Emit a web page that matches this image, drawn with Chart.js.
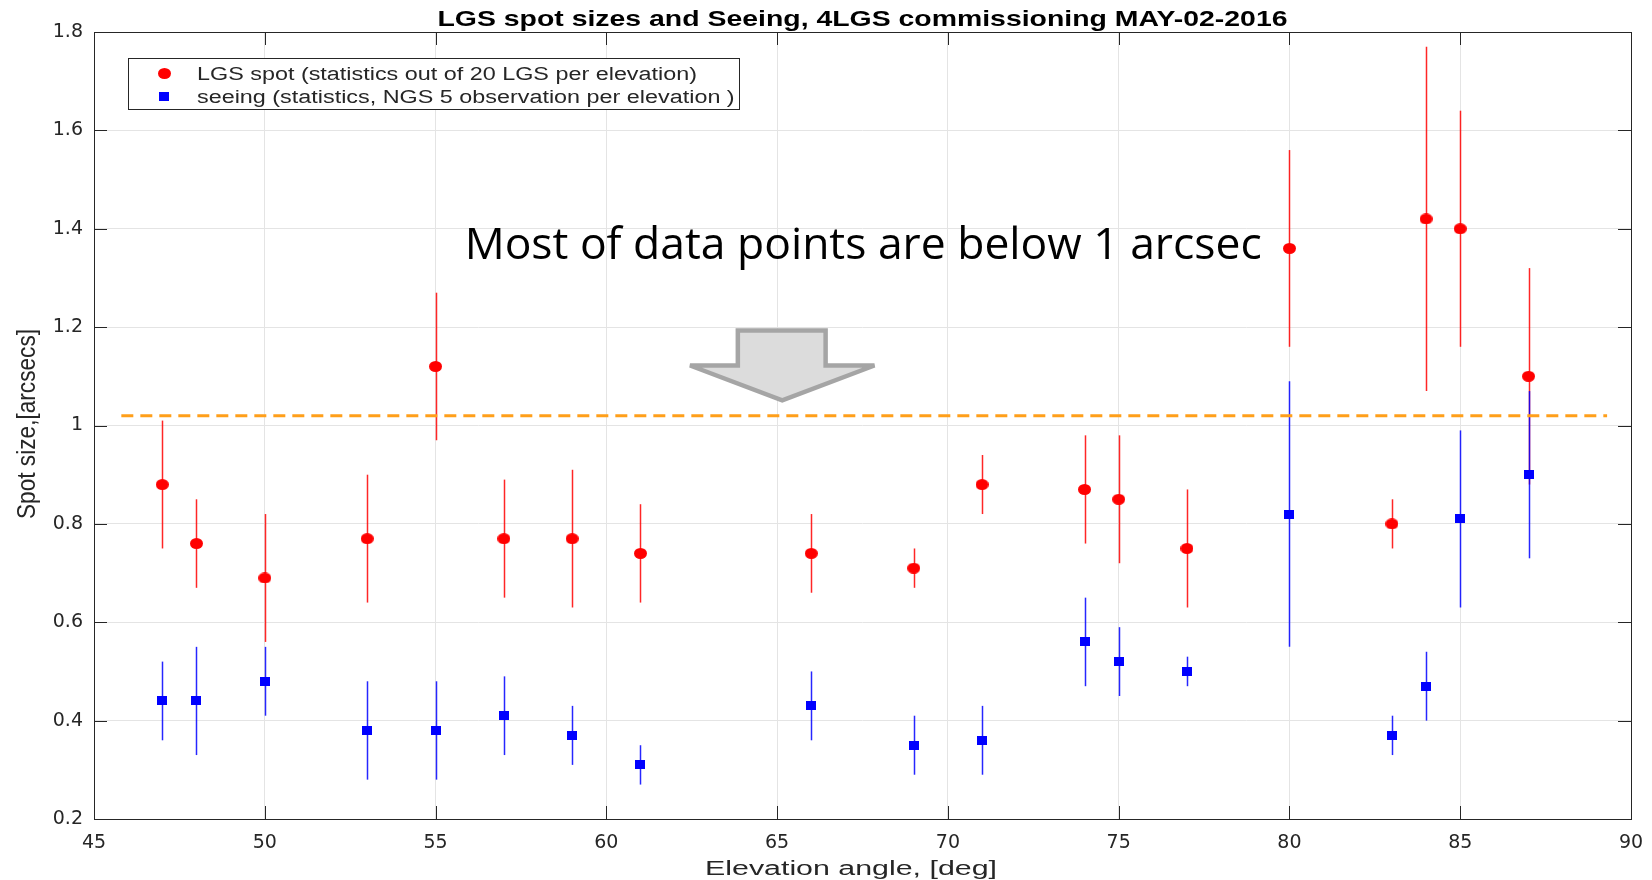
<!DOCTYPE html>
<html>
<head>
<meta charset="utf-8">
<title>LGS spot sizes and Seeing</title>
<script src="https://cdn.jsdelivr.net/npm/chart.js@4.4.1/dist/chart.umd.min.js"></script>
<style>
    html, body { margin: 0; padding: 0; background: #fff; }
    #wrap { width: 1652px; height: 880px; }
</style>
</head>
<body>
<div id="wrap"><canvas id="spotChart" width="1652" height="880"></canvas></div>
<script>
// --- data ---
const elevations = [47, 48, 50, 53, 55, 57, 59, 61, 66, 69, 71, 74, 75, 77, 80, 83, 84, 85, 87];

// LGS spot: mean and spread (20 LGS per elevation)
const lgsMean = [0.88, 0.76, 0.69, 0.77, 1.12, 0.77, 0.77, 0.74, 0.74, 0.71, 0.88, 0.87, 0.85, 0.75, 1.36, 0.80, 1.42, 1.40, 1.10];
const lgsLow  = [0.75, 0.67, 0.56, 0.64, 0.97, 0.65, 0.63, 0.64, 0.66, 0.67, 0.82, 0.76, 0.72, 0.63, 1.16, 0.75, 1.07, 1.16, 0.88];
const lgsHigh = [1.01, 0.85, 0.82, 0.90, 1.27, 0.89, 0.91, 0.84, 0.82, 0.75, 0.94, 0.98, 0.98, 0.87, 1.56, 0.85, 1.77, 1.64, 1.32];

// seeing: mean and spread (NGS, 5 observations per elevation)
const seeingMean = [0.44, 0.44, 0.48, 0.38, 0.38, 0.41, 0.37, 0.31, 0.43, 0.35, 0.36, 0.56, 0.52, 0.50, 0.82, 0.37, 0.47, 0.81, 0.90];
const seeingLow  = [0.36, 0.33, 0.41, 0.28, 0.28, 0.33, 0.31, 0.27, 0.36, 0.29, 0.29, 0.47, 0.45, 0.47, 0.55, 0.33, 0.40, 0.63, 0.73];
const seeingHigh = [0.52, 0.55, 0.55, 0.48, 0.48, 0.49, 0.43, 0.35, 0.50, 0.41, 0.43, 0.65, 0.59, 0.53, 1.09, 0.41, 0.54, 0.99, 1.07];

// 1 arcsec reference line (drawn dashed)
const limitX = [45.8, 89.3];
const limitY = [1.02, 1.02];

const xTicks = [45, 50, 55, 60, 65, 70, 75, 80, 85, 90];
const yTicks = [0.2, 0.4, 0.6, 0.8, 1.0, 1.2, 1.4, 1.6, 1.8];

const AXIS_COLOR = '#262626';
const MATLAB_FONT = "'Liberation Sans', Arial, sans-serif";

// markers are slightly wider than tall in the original figure
function makeMarker(shape, w, h, color) {
    const c = document.createElement('canvas');
    c.width = w;
    c.height = h;
    const g = c.getContext('2d');
    g.fillStyle = color;
    if (shape === 'ellipse') {
        g.beginPath();
        g.ellipse(w / 2, h / 2, w / 2, h / 2, 0, 0, Math.PI * 2);
        g.fill();
    } else {
        g.fillRect(0, 0, w, h);
    }
    return c;
}

// draw text squeezed/stretched to a given width (MATLAB export was stretched sideways)
function fitText(ctx, text, x, y, o) {
    ctx.save();
    ctx.font = o.font;
    ctx.fillStyle = o.color || AXIS_COLOR;
    ctx.textBaseline = 'alphabetic';
    ctx.textAlign = o.align || 'left';
    const w = ctx.measureText(text).width;
    const sx = o.width ? o.width / w : (o.sx || 1);
    ctx.translate(x, y);
    if (o.rotate) ctx.rotate(o.rotate);
    ctx.scale(sx, o.sy || 1);
    ctx.fillText(text, 0, 0);
    ctx.restore();
    return sx;
}

document.addEventListener('DOMContentLoaded', function () {
    const ctx = document.getElementById('spotChart');

    const redDot = makeMarker('ellipse', 13, 11, '#ff0000');
    const blueSq = makeMarker('rect', 10, 9, '#0000ff');

    const toPoints = (xs, ys) => xs.map((x, i) => ({ x: x, y: ys[i] }));

    // vertical error bars, no caps
    const errorBarPlugin = {
        id: 'errorBars',
        beforeDatasetsDraw(chart) {
            const { ctx, scales: { x, y } } = chart;
            ctx.save();
            ctx.lineWidth = 1.5;
            chart.data.datasets.forEach(ds => {
                if (!ds.errLow) return;
                ctx.strokeStyle = ds.errColor;
                ds.data.forEach((p, i) => {
                    const px = Math.round(x.getPixelForValue(p.x)) + 0.5;
                    ctx.beginPath();
                    ctx.moveTo(px, y.getPixelForValue(ds.errLow[i]));
                    ctx.lineTo(px, y.getPixelForValue(ds.errHigh[i]));
                    ctx.stroke();
                });
            });
            ctx.restore();
        }
    };

    // MATLAB style box with inward ticks on all four sides
    const boxPlugin = {
        id: 'matlabBox',
        afterDatasetsDraw(chart) {
            const { ctx, chartArea: a, scales: { x, y } } = chart;
            const tl = 13;
            ctx.save();
            ctx.strokeStyle = AXIS_COLOR;
            ctx.lineWidth = 1;
            ctx.beginPath();
            x.ticks.forEach(t => {
                const px = Math.round(x.getPixelForValue(t.value)) + 0.5;
                ctx.moveTo(px, a.bottom); ctx.lineTo(px, a.bottom - tl);
                ctx.moveTo(px, a.top); ctx.lineTo(px, a.top + tl);
            });
            y.ticks.forEach(t => {
                const py = Math.round(y.getPixelForValue(t.value)) + 0.5;
                ctx.moveTo(a.left, py); ctx.lineTo(a.left + tl, py);
                ctx.moveTo(a.right, py); ctx.lineTo(a.right - tl, py);
            });
            ctx.stroke();
            ctx.strokeRect(Math.round(a.left) + 0.5, Math.round(a.top) + 0.5,
                Math.round(a.right - a.left), Math.round(a.bottom - a.top));
            ctx.restore();
        }
    };

    // titles, boxed legend and the slide annotation (text + block arrow)
    const decorPlugin = {
        id: 'decor',
        afterDraw(chart) {
            const { ctx, chartArea: a, scales: { x, y } } = chart;
            const cx = (a.left + a.right) / 2;

            fitText(ctx, 'LGS spot sizes and Seeing, 4LGS commissioning MAY-02-2016', cx, 26,
                { font: 'bold 22px ' + MATLAB_FONT, width: 850, align: 'center', color: '#000' });
            fitText(ctx, 'Elevation angle, [deg]', 851, 875,
                { font: '20px ' + MATLAB_FONT, width: 292, align: 'center' });
            fitText(ctx, 'Spot size,[arcsecs]', 35, 424,
                { font: '20px ' + MATLAB_FONT, width: 190, align: 'center', rotate: -Math.PI / 2, sy: 1.25 });

            // legend box
            ctx.save();
            ctx.fillStyle = '#fff';
            ctx.fillRect(128.5, 58.5, 611, 51);
            ctx.strokeStyle = AXIS_COLOR;
            ctx.lineWidth = 1;
            ctx.strokeRect(128.5, 58.5, 611, 51);
            ctx.restore();
            const items = chart.data.datasets.filter(ds => ds.inLegend);
            let sx = null;
            items.forEach((ds, i) => {
                const ly = 73.5 + i * 23;
                const m = ds.pointStyle;
                ctx.drawImage(m, Math.round(164 - m.width / 2), Math.round(ly - m.height / 2));
                if (sx === null) {
                    sx = fitText(ctx, ds.label, 197, ly + 6, { font: '18px ' + MATLAB_FONT, width: 500 });
                } else {
                    fitText(ctx, ds.label, 197, ly + 6, { font: '18px ' + MATLAB_FONT, sx: sx });
                }
            });

            // block arrow pointing down at the 1 arcsec line (placed in data units)
            const X = v => x.getPixelForValue(v);
            const Y = v => y.getPixelForValue(v);
            ctx.save();
            ctx.beginPath();
            ctx.moveTo(X(63.85), Y(1.193));
            ctx.lineTo(X(66.42), Y(1.193));
            ctx.lineTo(X(66.42), Y(1.122));
            ctx.lineTo(X(67.85), Y(1.122));
            ctx.lineTo(X(65.15), Y(1.051));
            ctx.lineTo(X(62.45), Y(1.122));
            ctx.lineTo(X(63.85), Y(1.122));
            ctx.closePath();
            ctx.fillStyle = '#dcdcdc';
            ctx.fill();
            ctx.lineWidth = 4.5;
            ctx.lineJoin = 'miter';
            ctx.miterLimit = 2;
            ctx.strokeStyle = '#a5a5a5';
            ctx.stroke();
            ctx.restore();

            fitText(ctx, 'Most of data points are below 1 arcsec', X(67.52), Y(1.339),
                { font: "44px 'Open Sans', sans-serif", width: 797, align: 'center', color: '#000' });
        }
    };

    new Chart(ctx, {
        type: 'scatter',
        data: {
            datasets: [
                {
                    label: 'LGS spot (statistics out of 20 LGS per elevation)',
                    data: toPoints(elevations, lgsMean),
                    errLow: lgsLow,
                    errHigh: lgsHigh,
                    errColor: 'rgba(255, 0, 0, 0.85)',
                    pointStyle: redDot,
                    pointRadius: 6,
                    backgroundColor: '#ff0000',
                    inLegend: true,
                    order: 2
                },
                {
                    label: 'seeing (statistics, NGS 5 observation per elevation )',
                    data: toPoints(elevations, seeingMean),
                    errLow: seeingLow,
                    errHigh: seeingHigh,
                    errColor: 'rgba(0, 0, 255, 0.85)',
                    pointStyle: blueSq,
                    pointRadius: 6,
                    backgroundColor: '#0000ff',
                    inLegend: true,
                    order: 1
                },
                {
                    label: '1 arcsec',
                    type: 'line',
                    data: toPoints(limitX, limitY),
                    borderColor: '#ff9f1a',
                    borderWidth: 3,
                    borderDash: [12, 7],
                    pointRadius: 0,
                    fill: false,
                    order: 3
                }
            ]
        },
        options: {
            responsive: false,
            animation: false,
            layout: { padding: { top: 32, right: 21, left: 0, bottom: 0 } },
            scales: {
                x: {
                    type: 'linear',
                    min: 45,
                    max: 90,
                    afterBuildTicks: scale => { scale.ticks = xTicks.map(v => ({ value: v })); },
                    afterFit: scale => {
                        scale.height = 61;
                        scale.paddingLeft = 0;
                        scale.paddingRight = 0;
                    },
                    grid: { color: '#e4e4e4', drawTicks: false },
                    border: { display: false },
                    ticks: {
                        padding: 13,
                        color: AXIS_COLOR,
                        font: { family: "'DejaVu Sans'", size: 19 },
                        maxRotation: 0,
                        autoSkip: false
                    }
                },
                y: {
                    type: 'linear',
                    min: 0.2,
                    max: 1.8,
                    afterBuildTicks: scale => { scale.ticks = yTicks.map(v => ({ value: v })); },
                    afterFit: scale => {
                        scale.width = 94;
                        scale.paddingTop = 0;
                        scale.paddingBottom = 0;
                    },
                    grid: { color: '#e4e4e4', drawTicks: false },
                    border: { display: false },
                    ticks: {
                        padding: 11,
                        color: AXIS_COLOR,
                        font: { family: "'DejaVu Sans'", size: 19 },
                        callback: v => String(Number(v.toFixed(1)))
                    }
                }
            },
            plugins: {
                legend: { display: false },
                title: { display: false },
                tooltip: { enabled: false }
            }
        },
        plugins: [errorBarPlugin, boxPlugin, decorPlugin]
    });
});
</script>
</body>
</html>
